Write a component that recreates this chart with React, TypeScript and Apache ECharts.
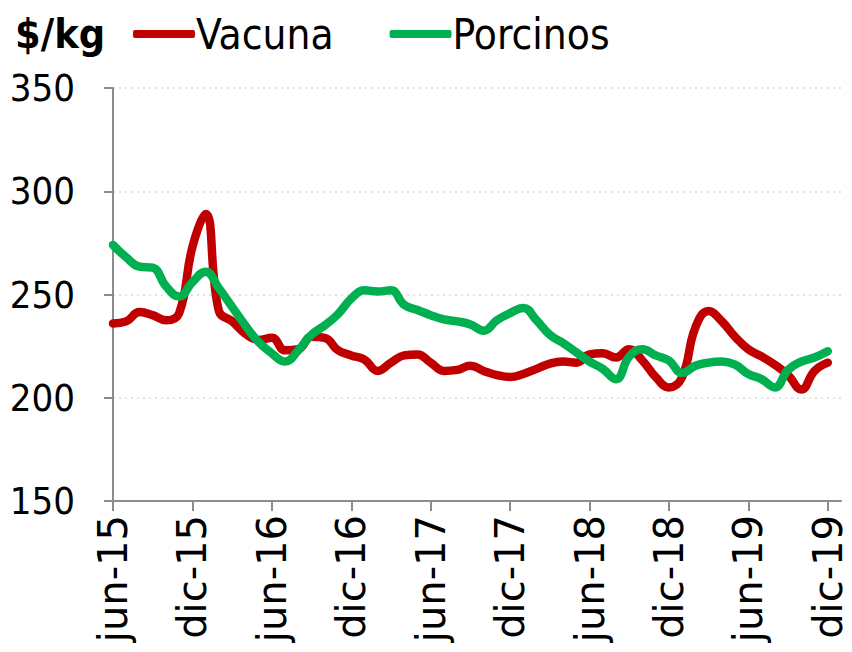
import React, { useEffect, useRef } from "react";
import * as echarts from "echarts";

const months = [
  "jun-15", "jul-15", "ago-15", "sep-15", "oct-15", "nov-15",
  "dic-15", "ene-16", "feb-16", "mar-16", "abr-16", "may-16",
  "jun-16", "jul-16", "ago-16", "sep-16", "oct-16", "nov-16",
  "dic-16", "ene-17", "feb-17", "mar-17", "abr-17", "may-17",
  "jun-17", "jul-17", "ago-17", "sep-17", "oct-17", "nov-17",
  "dic-17", "ene-18", "feb-18", "mar-18", "abr-18", "may-18",
  "jun-18", "jul-18", "ago-18", "sep-18", "oct-18", "nov-18",
  "dic-18", "ene-19", "feb-19", "mar-19", "abr-19", "may-19",
  "jun-19", "jul-19", "ago-19", "sep-19", "oct-19", "nov-19",
  "dic-19", "ene-20",
];

const vacuna = [
  236, 237, 241.5, 240, 237.5, 241,
  273, 289, 242, 237, 231, 228,
  229, 223, 223.5, 229.5, 229, 223,
  220.5, 218.5, 213, 217, 220.5, 221,
  217, 213, 213.5, 215.5, 213, 211,
  210, 211.5, 214, 216.5, 217.5, 217,
  221, 221.5, 219.5, 223.5, 218, 210,
  205, 210, 234, 242, 237, 229.5,
  223.5, 220, 216, 211, 204, 213,
  217,
];

const porcinos = [
  274, 268, 263.5, 263, 254, 249,
  256, 261, 253, 244, 235, 227,
  221.5, 217.5, 223, 230.5, 235, 240.5,
  248, 252, 251.5, 252, 245, 242.5,
  240, 238, 237, 235.5, 232.5, 237.5,
  241, 243.5, 237.5, 230.5, 226.5, 222,
  217.5, 214, 209, 220, 223.5, 220.5,
  218, 212, 215.5, 217, 217.5, 216,
  211.5, 209, 205, 213.5, 217.5, 219.5,
  222.5,
];

const yTicks = { min: 150, max: 350, interval: 50 };
const labelEvery = 6;

export default function App() {
  const ref = useRef<HTMLDivElement>(null);
  useEffect(() => {
    if (!ref.current) return;
    const chart = echarts.init(ref.current, null, { renderer: "svg" });
    const narrow = "'DejaVu Sans Condensed', 'Liberation Sans Narrow', 'DejaVu Sans', sans-serif";
    const showIdx = (i: number) => i % labelEvery === 0 && i < vacuna.length;
    chart.setOption({
      animation: false,
      backgroundColor: "#ffffff",
      title: {
        text: "$/kg",
        left: 10,
        top: 8,
        textStyle: { fontSize: 41, fontWeight: "bold", color: "#000", fontFamily: narrow },
      },
      legend: {
        left: 128,
        top: 8,
        itemWidth: 62,
        itemHeight: 8,
        itemGap: 56,
        icon: "roundRect",
        textStyle: { fontSize: 42, color: "#000", fontFamily: narrow, padding: [0, 0, 0, -4] },
        data: ["Vacuna", "Porcinos"],
      },
      grid: { left: 113, right: 11, top: 88, bottom: 151, containLabel: false },
      xAxis: {
        type: "category",
        data: months,
        boundaryGap: false,
        axisLine: { lineStyle: { color: "#8c8c8c", width: 2 } },
        axisTick: { show: true, interval: (i: number) => showIdx(i), length: 10, lineStyle: { color: "#8c8c8c", width: 2 } },
        axisLabel: {
          interval: (i: number) => showIdx(i),
          rotate: 90,
          margin: 14,
          fontSize: 40,
          color: "#000",
          fontFamily: "'DejaVu Sans', Verdana, sans-serif",
        },
        splitLine: { show: false },
      },
      yAxis: {
        type: "value",
        min: yTicks.min,
        max: yTicks.max,
        interval: yTicks.interval,
        axisLine: { show: true, lineStyle: { color: "#8c8c8c", width: 2 } },
        axisTick: { show: true, length: 9, lineStyle: { color: "#8c8c8c", width: 2 } },
        axisLabel: { fontSize: 38, color: "#000", fontFamily: narrow, margin: 38 },
        splitLine: { show: true, lineStyle: { color: "#d9d9d9", type: [2, 4], width: 1.5 } },
      },
      series: [
        {
          name: "Vacuna",
          type: "line",
          data: vacuna,
          smooth: 0.45,
          symbol: "none",
          lineStyle: { color: "#c00000", width: 8.5, cap: "round", join: "round" },
          itemStyle: { color: "#c00000" },
          z: 2,
        },
        {
          name: "Porcinos",
          type: "line",
          data: porcinos,
          smooth: 0.45,
          symbol: "none",
          lineStyle: { color: "#00b050", width: 8.5, cap: "round", join: "round" },
          itemStyle: { color: "#00b050" },
          z: 3,
        },
      ],
    });
    return () => chart.dispose();
  }, []);
  return (
    <div
      ref={ref}
      style={{ position: "fixed", left: 0, top: 0, width: 852, height: 652 }}
    />
  );
}
